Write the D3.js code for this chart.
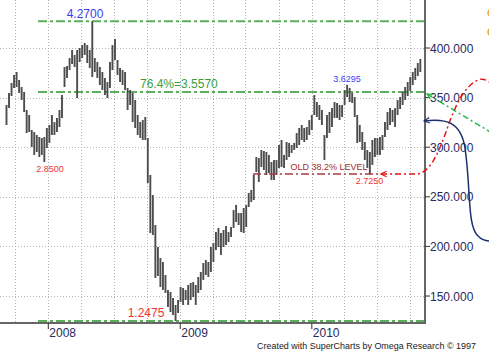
<!DOCTYPE html>
<html>
<head>
<meta charset="utf-8">
<script src="https://d3js.org/d3.v7.min.js"></script>
<style>
  body { margin: 0; background: #fff; }
  svg { display: block; font-family: "Liberation Sans", Arial, sans-serif; }
</style>
</head>
<body>
<div id="chart"></div>
<script>
// weekly bars, first one on this Friday
var firstWeek = "2007-09-07";
var weekHigh = [342.6,354.7,364.7,372.8,375.8,367.8,360.7,355.7,337.5,332.5,
  317.4,315.3,312.3,310.3,309.3,310.3,319.4,322.4,332.5,325.4,
  329.5,337.5,352.6,380.9,381.9,389.9,398.0,393.0,398.0,400.0,
  403.0,405.1,403.0,398.0,427.0,389.9,385.9,380.9,375.8,369.8,
  365.7,385.9,403.0,409.1,387.9,379.9,377.8,375.8,359.7,357.7,
  354.7,347.6,332.5,325.4,327.4,330.5,309.3,272.0,251.8,221.6,
  199.4,188.3,184.3,171.2,156.1,154.1,148.0,141.0,146.0,159.1,
  158.1,156.1,161.1,163.1,164.1,161.1,169.2,174.2,183.3,186.3,
  184.3,199.4,203.5,214.5,218.6,213.5,216.6,220.6,214.5,219.6,
  236.7,241.8,233.7,233.7,238.7,241.8,253.9,256.9,272.0,290.1,
  289.1,297.2,296.2,295.2,292.2,285.1,287.1,287.1,302.2,307.3,
  292.2,305.3,304.3,302.2,304.3,314.3,319.4,322.4,319.4,320.4,
  327.4,332.5,352.6,345.6,342.6,337.5,312.3,332.5,335.5,339.5,
  345.6,344.6,342.6,342.6,357.7,362.95,359.7,354.7,350.6,332.5,
  322.4,315.3,305.3,297.2,295.2,307.3,309.3,309.3,310.3,312.3,
  325.4,335.5,339.5,337.5,339.5,347.6,350.6,355.7,360.7,365.7,
  370.8,375.8,379.9,384.9,388.9];
var weekLow = [322.4,339.5,351.6,359.7,360.7,354.7,347.6,335.5,314.3,315.3,
  300.2,292.2,295.2,290.1,292.2,285.0,299.2,304.3,312.3,312.3,
  315.3,320.4,329.5,360.7,369.8,377.8,383.9,380.9,349.6,385.9,
  389.9,393.0,384.9,379.9,370.8,375.8,369.8,362.7,357.7,352.6,
  349.6,359.7,377.8,387.9,372.8,365.7,362.7,357.7,337.5,342.6,
  325.4,319.4,312.3,309.3,307.3,307.3,263.9,213.5,211.5,168.2,
  170.2,159.1,156.1,153.1,139.0,133.9,130.9,124.75,132.9,144.0,
  141.0,146.0,141.0,146.0,149.0,141.0,153.1,156.1,166.2,171.2,
  169.2,174.2,184.3,196.4,199.4,191.4,199.4,201.4,204.5,209.5,
  218.6,224.6,221.6,214.5,213.5,219.6,239.7,244.8,246.8,275.0,
  265.0,280.1,277.0,272.0,274.0,267.0,267.0,272.0,279.1,280.1,
  279.1,287.1,290.1,294.2,297.2,299.2,302.2,307.3,305.3,307.3,
  312.3,317.4,332.5,330.5,327.4,322.4,287.1,309.3,314.3,320.4,
  329.5,329.5,327.4,330.5,342.6,350.6,345.6,344.6,330.5,304.3,
  305.3,297.2,287.1,279.1,272.5,282.1,290.1,292.2,292.2,297.2,
  310.3,317.4,322.4,325.4,320.4,332.5,338.5,342.6,347.6,351.6,
  356.7,362.7,367.8,371.8,375.8];

var priceTicks = [150, 200, 250, 300, 350, 400];
var yearTicks = ["2008-01-01", "2009-01-01", "2010-01-01"];
var fibLevels = [427.0, 355.7, 124.75];
var oldLevel = 273.0;

var W = 489, H = 354;
var plotR = 425, plotB = 323;
var parse = d3.timeParse("%Y-%m-%d");

var svg = d3.select("#chart").append("svg").attr("width", W).attr("height", H);

var x = d3.scaleTime()
    .domain([parse("2007-08-20"), parse("2010-11-11")])
    .range([0, plotR]);
var y = d3.scaleLinear().domain([122.8, 448.4]).range([plotB, 0]);

var start = parse(firstWeek);
var bars = weekHigh.map(function (h, i) {
  return { date: d3.timeDay.offset(start, 7 * i), high: h, low: weekLow[i] };
});

// grid
var grid = svg.append("g").attr("stroke", "#b4b4b4").attr("stroke-dasharray", "1,2");
grid.selectAll(".hg").data(priceTicks).enter().append("line")
  .attr("x1", 0).attr("x2", plotR)
  .attr("y1", function (d) { return Math.round(y(d)) + 0.5; })
  .attr("y2", function (d) { return Math.round(y(d)) + 0.5; });
var quarters = d3.timeMonth.every(3).range(parse("2007-10-01"), parse("2010-11-01"));
grid.selectAll(".vg").data(quarters).enter().append("line")
  .attr("y1", 0).attr("y2", plotB)
  .attr("x1", function (d) { return Math.round(x(d)) + 0.5; })
  .attr("x2", function (d) { return Math.round(x(d)) + 0.5; });

// level lines
svg.selectAll(".fib").data(fibLevels).enter().append("line")
  .attr("x1", 38).attr("x2", plotR)
  .attr("y1", function (d) { return y(d); }).attr("y2", function (d) { return y(d); })
  .attr("stroke", "#5cad5c").attr("stroke-width", 2)
  .attr("stroke-dasharray", "9,3,3,3");

// price bars
svg.append("g").selectAll("line").data(bars).enter().append("line")
  .attr("x1", function (d) { return x(d.date); })
  .attr("x2", function (d) { return x(d.date); })
  .attr("y1", function (d) { return y(d.high); })
  .attr("y2", function (d) { return y(d.low); })
  .attr("stroke", "#4d4d4d").attr("stroke-width", 1.9);

// old 38.2% line
svg.append("line")
  .attr("x1", 253).attr("x2", 378)
  .attr("y1", y(oldLevel)).attr("y2", y(oldLevel))
  .attr("stroke", "#b03a3a").attr("stroke-width", 1.5)
  .attr("stroke-dasharray", "8,3,2,3");

// axes
svg.append("line").attr("x1", plotR).attr("x2", plotR).attr("y1", 0).attr("y2", plotB)
  .attr("stroke", "#666").attr("stroke-width", 2);
svg.append("line").attr("x1", 0).attr("x2", plotR + 1).attr("y1", plotB).attr("y2", plotB)
  .attr("stroke", "#666").attr("stroke-width", 2);

var yAx = svg.append("g");
yAx.selectAll("line").data(priceTicks).enter().append("line")
  .attr("x1", plotR).attr("x2", plotR + 5)
  .attr("y1", function (d) { return y(d); }).attr("y2", function (d) { return y(d); })
  .attr("stroke", "#333").attr("stroke-width", 1);
yAx.selectAll("text").data(priceTicks).enter().append("text")
  .attr("x", plotR + 5).attr("y", function (d) { return y(d) + 4.5; })
  .attr("font-size", 12).attr("fill", "#2a2a5c")
  .text(d3.format(".3f"));

var xAx = svg.append("g");
xAx.selectAll("line").data(yearTicks).enter().append("line")
  .attr("x1", function (d) { return x(parse(d)); }).attr("x2", function (d) { return x(parse(d)); })
  .attr("y1", plotB).attr("y2", plotB + 6)
  .attr("stroke", "#333").attr("stroke-width", 1);
xAx.selectAll("text").data(yearTicks).enter().append("text")
  .attr("x", function (d) { return x(parse(d)) + 1; }).attr("y", 337)
  .attr("font-size", 12).attr("fill", "#2a2a5c")
  .text(function (d) { return d.slice(0, 4); });

// labels
function label(txt, xx, yy, size, color, anchor) {
  svg.append("text").attr("x", xx).attr("y", yy).attr("font-size", size)
    .attr("fill", color).attr("text-anchor", anchor || "middle").text(txt);
}
label("4.2700", 85, y(fibLevels[0]) - 3, 12, "#3b3bf5");
label("76.4%=3.5570", 140, y(fibLevels[1]) - 3.5, 12, "#3c9c3c", "start");
label("1.2475", 146, y(fibLevels[2]) - 4, 12, "#f03434");
label("2.8500", 50, y(285.0) + 10, 9, "#f03434");
label("3.6295", 347, y(362.95) - 3, 9, "#3b3bf5");
label("OLD 38.2% LEVEL", 329, y(oldLevel) - 3.5, 9, "#a52a2a");
label("2.7250", 369.5, y(272.5) + 10, 9, "#f03434");

// right-margin sketches
var defs = svg.append("defs");
function arrowMarker(id, color) {
  defs.append("marker").attr("id", id).attr("viewBox", "0 0 10 10")
    .attr("refX", 9).attr("refY", 5).attr("markerWidth", 7).attr("markerHeight", 7)
    .attr("markerUnits", "userSpaceOnUse")
    .attr("orient", "auto-start-reverse")
    .append("path").attr("d", "M1,1 L9,5 L1,9").attr("fill", "none")
    .attr("stroke", color).attr("stroke-width", 1.6);
}
arrowMarker("aRed", "#e01818");
arrowMarker("aGreen", "#22b84a");
arrowMarker("aBlue", "#1c2f6e");

svg.append("path")
  .attr("d", "M381,174 L418,174 C428,172 436,160 446,132 C454,108 464,86 478,80 C483,78 487,80 492,84")
  .attr("fill", "none").attr("stroke", "#e01818").attr("stroke-width", 1.5)
  .attr("stroke-dasharray", "6,3,2,3").attr("marker-start", "url(#aRed)");

svg.append("path")
  .attr("d", "M427,94 L492,133")
  .attr("fill", "none").attr("stroke", "#22b84a").attr("stroke-width", 1.5)
  .attr("stroke-dasharray", "6,3,2,3").attr("marker-start", "url(#aGreen)");

svg.append("path")
  .attr("d", "M424,121 C446,118 461,122 465,148 C471,188 467,226 478,236 C482,240 486,241 490,241")
  .attr("fill", "none").attr("stroke", "#1c2f6e").attr("stroke-width", 1.5)
  .attr("marker-start", "url(#aBlue)");

svg.append("circle").attr("cx", 492).attr("cy", 13).attr("r", 4)
  .attr("fill", "none").attr("stroke", "#f0a030").attr("stroke-width", 1.5);
svg.append("circle").attr("cx", 492).attr("cy", 32).attr("r", 4)
  .attr("fill", "none").attr("stroke", "#f0a030").attr("stroke-width", 1.5);

svg.append("text").attr("x", 257).attr("y", 349).attr("font-size", 9).attr("fill", "#1a1a1a")
  .attr("textLength", 219).attr("lengthAdjust", "spacingAndGlyphs")
  .text("Created with SuperCharts by Omega Research \u00a9 1997");
</script>
</body>
</html>
